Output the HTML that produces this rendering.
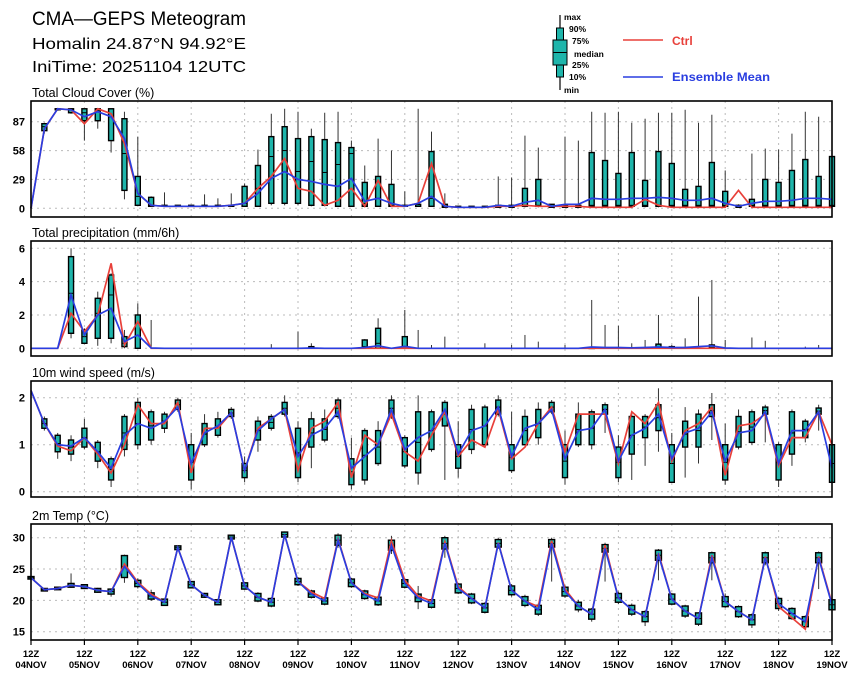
<!DOCTYPE html>
<html><head><meta charset="utf-8"><style>
html,body{margin:0;padding:0;background:#fff;}
svg{display:block;font-family:"Liberation Sans",sans-serif;}
</style></head><body>
<svg id="chart" width="860" height="678" viewBox="0 0 860 678" xmlns="http://www.w3.org/2000/svg">
<rect width="860" height="678" fill="#fff"/>
<g>
<text x="32" y="25" font-size="19" textLength="214" lengthAdjust="spacingAndGlyphs">CMA—GEPS Meteogram</text>
<text x="32" y="49" font-size="16" textLength="214" lengthAdjust="spacingAndGlyphs">Homalin 24.87°N 94.92°E</text>
<text x="32" y="72" font-size="16" textLength="214" lengthAdjust="spacingAndGlyphs">IniTime: 20251104 12UTC</text>
</g>
<g>
<line x1="560" y1="15" x2="560" y2="90" stroke="#000" stroke-width="1.2"/>
<rect x="556.5" y="28" width="7" height="49" fill="#1fb5ab" stroke="#000" stroke-width="1"/>
<rect x="553" y="40" width="14" height="25" fill="#1fb5ab" stroke="#000" stroke-width="1"/>
<line x1="553" y1="52.5" x2="567" y2="52.5" stroke="#000" stroke-width="1"/>
<g font-size="8.5" font-weight="bold">
<text x="564" y="20">max</text><text x="569" y="32">90%</text><text x="572" y="44">75%</text>
<text x="574" y="57">median</text><text x="572" y="68">25%</text><text x="569" y="80">10%</text><text x="564" y="93">min</text>
</g>
<line x1="623" y1="40" x2="663" y2="40" stroke="#e8403a" stroke-width="1.5"/>
<text x="672" y="45" font-size="12" font-weight="bold" fill="#e8403a">Ctrl</text>
<line x1="623" y1="77" x2="663" y2="77" stroke="#2a3ee0" stroke-width="1.5"/>
<text x="672" y="81" font-size="12" font-weight="bold" fill="#2a3ee0" textLength="98" lengthAdjust="spacingAndGlyphs">Ensemble Mean</text>
</g>
<g id="plots"></g>
</svg>
<script>
// ---- Cloud cover (%) ----
const cloudMean=[0,80,100,99,92,97,92,70,15,3, 2,2,2,2,2,3,5,15,30,37, 29,27,24,22,30,7,10,5,2,5, 12,2,1,1,1,3,2,6,8,2, 4,4,10,9,9,10,10,11,10,8, 8,10,5,2,5,7,7,8,10,10, 9];
const cloudCtrl=[0,80,100,99,85,100,95,65,15,3, 2,2,2,2,2,3,5,20,32,50, 20,17,3,8,20,2,28,2,2,5, 45,2,1,1,1,2,2,3,2,2, 2,2,1,1,1,1,9,3,1,1, 1,1,1,18,1,1,1,1,1,1, 1];
const cloudBoxLo=[0,78,99,96,88,88,68,18,3,2, 2,2,2,2,2,2,2,2,5,5, 5,3,3,2,2,2,2,2,2,2, 2,1,1,1,1,1,1,2,2,1, 1,1,2,2,2,2,2,2,2,2, 2,2,2,1,2,2,2,2,2,2, 2];
const cloudBoxHi=[0,85,100,100,100,100,100,90,32,11, 3,3,3,3,3,3,22,43,72,82, 70,72,69,66,61,26,32,24,3,4, 57,4,2,2,2,3,3,20,29,4, 3,3,56,48,35,56,28,57,45,19, 22,46,17,3,9,29,26,38,49,32, 52];
const cloudMed=[0,82,100,99,96,98,92,55,12,3, 2,2,2,2,2,2,5,20,52,58, 37,47,36,44,55,5,10,3,2,2, 10,2,1,1,1,2,2,3,3,2, 2,2,3,3,3,3,3,3,3,3, 3,3,3,2,3,3,3,3,3,3, 3];
const cloudMin=[0,75,98,95,68,80,56,9,2,2, 2,2,2,2,2,2,2,2,3,3, 3,2,2,2,2,2,2,2,2,2, 2,1,1,1,1,1,1,1,1,1, 1,1,1,1,1,1,1,1,1,1, 1,1,1,1,1,1,1,1,1,1, 1];
const cloudMax=[0,86,100,100,100,100,100,97,72,12, 16,3,3,14,10,15,25,59,95,100, 97,80,96,97,68,43,70,58,17,100, 77,15,2,2,2,32,31,73,61,4, 72,68,97,96,97,86,90,96,96,99, 86,94,38,4,55,60,59,75,97,92, 60];
const cloudTicks=[0,29,58,87];
// ---- Precipitation (mm/6h) ----
const precMean=[0,0,0,3.2,0.8,2.0,2.4,0.4,0.8,0.02, 0,0,0,0,0,0,0,0,0,0, 0,0.02,0,0,0,0.05,0.15,0,0.12,0, 0,0,0,0,0,0,0,0,0,0, 0,0,0.08,0.05,0.05,0.03,0.05,0.08,0.05,0.05, 0.1,0.15,0.02,0,0,0,0,0,0,0, 0];
const precCtrl=[0,0,0,2.1,1.0,2.0,5.1,0.2,1.6,0, 0,0,0,0,0,0,0,0,0,0, 0,0,0,0,0,0,0,0,0,0, 0,0,0,0,0,0,0,0,0,0, 0,0,0,0,0,0,0,0,0,0, 0,0,0,0,0,0,0,0,0,0, 0];
const precBoxLo=[0,0,0,0.9,0.3,0.6,0.6,0.1,0,0, 0,0,0,0,0,0,0,0,0,0, 0,0,0,0,0,0,0,0,0,0, 0,0,0,0,0,0,0,0,0,0, 0,0,0,0,0,0,0,0,0,0, 0,0,0,0,0,0,0,0,0,0, 0];
const precBoxHi=[0,0,0,5.5,1.1,3.0,4.4,0.7,2.0,0, 0,0,0,0,0,0,0,0,0,0, 0,0.1,0,0,0,0.5,1.2,0,0.7,0, 0,0,0,0,0,0,0,0,0,0, 0,0,0.05,0,0,0,0,0.25,0.1,0, 0,0.2,0,0,0,0,0,0,0,0, 0];
const precMed=[0,0,0,3.3,0.7,2.1,3.2,0.3,1.5,0, 0,0,0,0,0,0,0,0,0,0, 0,0,0,0,0,0.1,0.3,0,0.1,0, 0,0,0,0,0,0,0,0,0,0, 0,0,0,0,0,0,0,0.05,0.03,0, 0,0.05,0,0,0,0,0,0,0,0, 0];
const precMin=[0,0,0,0.6,0.25,0.15,0.3,0,0,0, 0,0,0,0,0,0,0,0,0,0, 0,0,0,0,0,0,0,0,0,0, 0,0,0,0,0,0,0,0,0,0, 0,0,0,0,0,0,0,0,0,0, 0,0,0,0,0,0,0,0,0,0, 0];
const precMax=[0,0,0,6.0,1.2,3.4,4.5,1.1,2.7,1.7, 0,0,0,0,0,0,0,0,0.25,0, 1.0,0.3,0,0,0,0.55,1.8,0,2.3,1.1, 0.2,0.7,0,0,0.3,0,0.2,0.8,0.4,0, 0.2,0,2.9,1.4,1.35,0.3,0.5,2.0,0.2,0.6, 3.1,4.1,0.5,0,0.65,0.45,0,0,0.1,0.2, 0];
const precTicks=[0,2,4,6];
// ---- 10m wind speed (m/s) ----
const windMean=[2.15,1.45,1.0,0.97,1.15,0.85,0.5,1.2,1.45,1.35, 1.5,1.8,0.6,1.25,1.4,1.68,0.45,1.3,1.55,1.75, 0.75,1.2,1.35,1.7,0.5,0.75,1.0,1.75,0.9,1.15, 1.3,1.75,0.8,1.3,1.4,1.8,0.75,1.35,1.45,1.75, 0.7,1.3,1.35,1.75,0.65,1.2,1.35,1.65,0.7,1.25, 1.35,1.7,0.65,1.25,1.3,1.7,0.6,1.3,1.3,1.7, 0.5];
const windCtrl=[2.15,1.45,0.97,0.87,1.15,0.8,0.4,1.0,1.85,1.45, 1.45,1.9,0.4,1.35,1.35,1.68,0.45,1.35,1.55,1.75, 0.45,1.35,1.5,1.9,0.3,1.2,1.0,1.65,0.85,0.65, 1.2,1.7,0.75,1.1,0.95,1.75,0.7,0.95,1.45,1.8, 0.85,1.65,1.65,1.65,0.6,1.7,1.45,1.9,0.65,1.3, 1.45,1.8,0.35,1.4,1.45,1.65,0.55,1.15,1.15,1.7, 1.0];
const windBoxLo=[2.15,1.35,0.85,0.8,0.95,0.65,0.25,0.9,1.0,1.1, 1.35,1.75,0.25,1.0,1.2,1.6,0.3,1.1,1.35,1.65, 0.3,0.95,1.1,1.6,0.15,0.25,0.6,1.6,0.55,0.4, 0.9,1.4,0.5,0.9,1.0,1.65,0.45,1.0,1.15,1.7, 0.3,1.0,1.0,1.65,0.3,0.8,1.15,1.3,0.2,0.95, 0.95,1.6,0.25,0.95,1.05,1.65,0.25,0.8,1.15,1.65, 0.2];
const windBoxHi=[2.15,1.55,1.2,1.1,1.35,1.05,0.7,1.6,1.9,1.7, 1.65,1.95,1.0,1.45,1.55,1.75,0.6,1.5,1.6,1.9, 1.35,1.55,1.55,1.95,0.7,1.3,1.3,1.95,1.15,1.7, 1.7,1.9,1.0,1.75,1.8,1.95,1.0,1.6,1.75,1.9, 1.0,1.65,1.7,1.85,0.95,1.6,1.6,1.85,1.0,1.5, 1.65,1.85,1.0,1.6,1.7,1.8,1.0,1.7,1.5,1.78, 1.0];
const windMin=[2.15,1.3,0.7,0.65,0.9,0.5,0.1,0.75,0.9,1.0, 1.25,1.7,0.05,0.95,1.15,1.55,0.2,0.85,1.3,1.6, 0.2,0.5,1.05,1.55,0.05,0.15,0.55,1.55,0.5,0.15, 0.85,0.25,0.3,0.8,1.0,1.6,0.4,1.0,1.0,1.65, 0.15,0.95,0.9,1.25,0.2,0.25,0.55,0.85,0.2,0.3, 0.6,1.1,0.15,0.9,1.0,1.05,0.1,0.55,1.05,1.3, 0.2];
const windMax=[2.15,1.6,1.25,1.2,1.55,1.1,0.75,1.65,2.0,1.75, 1.7,2.0,1.25,1.65,1.7,1.8,0.75,1.6,1.65,2.05, 1.5,1.7,1.75,2.0,1.15,1.35,1.5,2.05,1.2,2.05, 1.75,1.95,1.5,1.85,1.85,2.05,1.7,1.75,1.9,1.95, 1.3,1.9,1.75,1.9,1.2,1.7,1.65,2.2,1.25,1.8, 1.75,2.1,1.45,1.75,1.75,1.85,1.05,1.75,1.55,1.85, 1.1];
const windTicks=[0,1,2];
// ---- 2m temperature (°C) ----
const tempMean=[23.6,21.7,21.9,22.4,22.2,21.6,21.4,25.4,22.7,20.7, 19.7,28.4,22.5,20.8,19.7,30.1,22.3,20.5,19.7,30.5, 23.0,21.0,19.9,29.6,22.8,20.9,19.9,28.8,22.7,20.4, 19.5,29.1,21.9,20.3,18.8,29.1,21.6,19.9,18.5,29.1, 21.4,19.1,17.8,28.3,20.4,18.5,17.4,27.2,20.2,18.3, 17.1,26.8,19.8,18.2,16.9,26.8,19.5,17.9,16.6,26.8, 19.3];
const tempCtrl=[23.6,21.7,21.9,22.4,22.2,21.6,21.4,25.8,22.9,21.0, 19.7,28.4,22.5,20.8,19.7,30.1,22.3,20.5,19.7,30.5, 23.0,21.3,20.3,29.8,22.8,21.1,20.4,29.5,23.2,20.7, 19.9,29.3,22.2,20.3,18.8,29.2,21.6,19.9,19.0,29.5, 21.8,19.1,17.8,28.8,20.4,18.5,17.4,27.5,20.2,18.3, 17.1,27.2,19.8,18.2,16.9,27.0,19.0,17.2,15.4,27.0, 19.5];
const tempBoxHalf=[0.2,0.2,0.2,0.3,0.3,0.3,0.4,1.75,0.5,0.5, 0.5,0.3,0.5,0.3,0.4,0.3,0.5,0.6,0.6,0.4, 0.5,0.5,0.5,0.8,0.6,0.6,0.6,0.8,0.6,0.6, 0.6,0.9,0.7,0.7,0.7,0.6,0.7,0.7,0.7,0.6, 0.7,0.6,0.8,0.6,0.7,0.7,0.8,0.8,0.8,0.8, 0.9,0.8,0.8,0.8,0.8,0.8,0.8,0.8,0.8,0.8, 0.8];
const tempWhiskLo=[0.2,0.2,0.2,0.4,0.4,0.4,0.8,2.6,0.8,0.8, 0.6,0.4,0.6,0.4,0.5,0.4,0.6,0.8,0.8,0.5, 0.7,0.7,0.7,1.2,0.8,0.8,0.8,1.4,0.8,1.8, 0.8,2.3,0.9,0.9,0.9,0.9,1.0,1.0,1.0,6.1, 1.0,1.0,1.2,5.3,1.0,1.0,1.5,4.0,1.0,1.1, 1.2,3.6,1.0,1.0,1.3,1.2,1.2,1.0,1.2,5.0, 1.0];
const tempWhiskHi=[0.2,0.2,0.2,1.9,0.4,0.4,0.5,1.9,0.8,1.0, 0.5,0.4,0.6,0.4,0.5,0.4,0.6,0.8,0.8,0.5, 0.7,0.7,0.7,1.1,0.8,0.8,0.8,1.5,0.8,1.9, 0.8,1.2,0.9,0.9,0.9,0.9,1.0,1.0,1.0,0.9, 1.0,1.0,1.0,0.9,1.0,1.0,1.0,1.0,1.0,1.0, 1.0,1.0,1.3,1.0,1.0,1.0,1.0,1.0,1.0,1.0, 1.0];
const tempTicks=[15,20,25,30];
// ---- time axis ----
const dayLabels=["04NOV","05NOV","06NOV","07NOV","08NOV","09NOV","10NOV","11NOV","12NOV","13NOV","14NOV","15NOV","16NOV","17NOV","18NOV","19NOV"];

const NS="http://www.w3.org/2000/svg";
const plots=document.getElementById('plots');
const X0=31,X1=832,NSTEP=60;
function xScale(i){return X0+i*(X1-X0)/NSTEP;}
function mk(tag,attrs,parent){const e=document.createElementNS(NS,tag);for(const k in attrs)e.setAttribute(k,attrs[k]);(parent||plots).appendChild(e);return e;}

function drawPanel(p){
  const g=mk('g',{});
  
  
  const ys=v=>p.y0+(v-p.v0)*(p.y1-p.y0)/(p.v1-p.v0);
  const t=mk('text',{x:32,y:p.top-4,'font-size':12.5},g);t.textContent=p.title;
  
  
  for(const v of p.ticks){
    const gl=mk('line',{x1:X0,x2:X1,y1:ys(v),y2:ys(v),stroke:'#bbb','stroke-width':1,'stroke-dasharray':'2,4'},g);
    
    
    const tl=mk('text',{x:25,y:ys(v)+4,'font-size':11,'font-weight':'bold','text-anchor':'end'},g);tl.textContent=String(v);
    
    
  }
  for(let d=1;d<dayLabels.length-1;d++){
    const x=xScale(d*4);
    const vl=mk('line',{x1:x,x2:x,y1:p.top,y2:p.bottom,stroke:'#bbb','stroke-width':1,'stroke-dasharray':'2,4'},g);
    
    
  }
  for(let i=0;i<p.mean.length;i++){
    const x=xScale(i);
    if(p.wmax[i]-p.wmin[i]>p.eps){
      const w=mk('line',{x1:x,x2:x,y1:ys(p.wmin[i]),y2:ys(p.wmax[i]),stroke:'#333','stroke-width':1},g);
      
      
    }
    if(p.bhi[i]-p.blo[i]>p.eps){
      const yt=ys(p.bhi[i]),yb=ys(p.blo[i]);
      const bw=p.bw;
      const b=mk('rect',{x:x-bw/2,y:yt,width:bw,height:Math.max(1,yb-yt),fill:'#1fb5ab',stroke:'#000','stroke-width':1.4},g);
      
      
      const m=p.med?p.med[i]:(p.bhi[i]+p.blo[i])/2;
      mk('line',{x1:x-bw/2,x2:x+bw/2,y1:ys(m),y2:ys(m),stroke:'#000','stroke-width':1},g);
    }
  }
  const ctrlPts=p.ctrl.map((v,i)=>xScale(i).toFixed(1)+','+ys(v).toFixed(1)).join(' ');
  const cl=mk('polyline',{points:ctrlPts,fill:'none',stroke:'#e8403a','stroke-width':1.7},g);
  
  
  const meanPts=p.mean.map((v,i)=>xScale(i).toFixed(1)+','+ys(v).toFixed(1)).join(' ');
  const ml=mk('polyline',{points:meanPts,fill:'none',stroke:'#2a3ee0','stroke-width':1.7},g);
  
  
  const fr=mk('rect',{x:X0,y:p.top,width:X1-X0,height:p.bottom-p.top,fill:'none',stroke:'#000','stroke-width':1.6},g);
  
  
  return ys;
}

drawPanel({name:'cloud-cover',title:'Total Cloud Cover (%)',top:101,bottom:217,v0:0,v1:87,y0:208.3,y1:121.7,ticks:cloudTicks,bw:5,
  mean:cloudMean,ctrl:cloudCtrl,blo:cloudBoxLo,bhi:cloudBoxHi,med:cloudMed,wmin:cloudMin,wmax:cloudMax,eps:0.5});
drawPanel({name:'precipitation',title:'Total precipitation (mm/6h)',top:241,bottom:356,v0:0,v1:6,y0:348.3,y1:248.3,ticks:precTicks,bw:5,
  mean:precMean,ctrl:precCtrl,blo:precBoxLo,bhi:precBoxHi,med:precMed,wmin:precMin,wmax:precMax,eps:0.01});
drawPanel({name:'wind-speed',title:'10m wind speed (m/s)',top:381,bottom:497,v0:0,v1:2,y0:491.7,y1:397.7,ticks:windTicks,bw:5,
  mean:windMean,ctrl:windCtrl,blo:windBoxLo,bhi:windBoxHi,med:null,wmin:windMin,wmax:windMax,eps:0.01});
const tBlo=tempMean.map((v,i)=>v-tempBoxHalf[i]);
const tBhi=tempMean.map((v,i)=>v+tempBoxHalf[i]);
const tWmin=tempMean.map((v,i)=>v-tempWhiskLo[i]);
const tWmax=tempMean.map((v,i)=>v+tempWhiskHi[i]);
drawPanel({name:'temperature',title:'2m Temp (°C)',top:524,bottom:640,v0:15,v1:30,y0:631.7,y1:537.7,ticks:tempTicks,bw:6,
  mean:tempMean,ctrl:tempCtrl,blo:tBlo,bhi:tBhi,med:null,wmin:tWmin,wmax:tWmax,eps:0.05});

const xa=mk('g',{});


dayLabels.forEach((lab,d)=>{
  const x=xScale(d*4);
  mk('line',{x1:x,x2:x,y1:640,y2:645,stroke:'#000','stroke-width':1.2},xa);
  const t1=mk('text',{x:x,y:657,'font-size':9.5,'font-weight':'bold','text-anchor':'middle'},xa);t1.textContent='12Z';
  
  
  const t2=mk('text',{x:x,y:668,'font-size':9.5,'font-weight':'bold','text-anchor':'middle'},xa);t2.textContent=lab;
  
  
});
</script>
</body></html>
